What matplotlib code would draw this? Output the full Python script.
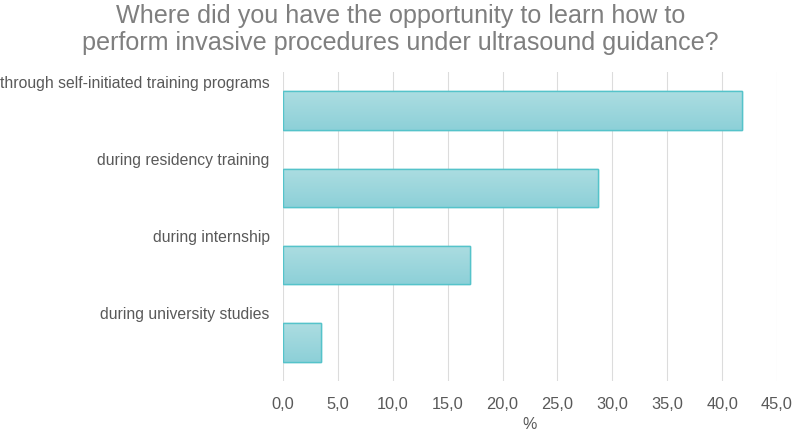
import numpy as np
import matplotlib
matplotlib.use("Agg")
import matplotlib.pyplot as plt
from matplotlib.ticker import FuncFormatter
import matplotlib.transforms as mtransforms

plt.rcParams['font.family'] = ['Liberation Sans', 'DejaVu Sans']

categories = ['through self-initiated training programs',
              'during residency training',
              'during internship',
              'during university studies']
values = [41.8, 28.7, 17.0, 3.5]
xticks = np.arange(0, 50, 5)

fig = plt.figure(figsize=(7.94, 4.31), dpi=100)
ax = fig.add_axes([0.3564, 0.1137, 0.6222, 0.7169])

pos = np.arange(len(categories))
bars = ax.barh(pos, values, height=0.5, color='#9fd6dc', edgecolor='#55c3ca',
               linewidth=1.0, zorder=3)

# vertical gradient inside each bar
grad = np.linspace(0, 1, 64).reshape(-1, 1)
cmap = matplotlib.colors.LinearSegmentedColormap.from_list('g', ['#acdde1', '#8dd0d8'])
for b in bars:
    x0, y0 = b.get_x(), b.get_y()
    w, h = b.get_width(), b.get_height()
    im = ax.imshow(grad, extent=[x0, x0 + w, y0 + h, y0], aspect='auto',
                   cmap=cmap, zorder=3.5, origin='upper')
    im.set_clip_path(b)
    ax.add_patch(plt.Rectangle((x0, y0), w, h, fill=False, edgecolor='#55c3ca',
                               linewidth=1.0, zorder=4))

ax.set_xlim(0, 45)
ax.set_ylim(len(categories) - 0.5, -0.5)
ax.set_xticks(xticks)
ax.xaxis.set_major_formatter(FuncFormatter(lambda v, p: f'{v:.1f}'.replace('.', ',')))
ax.set_yticks([])
ax.tick_params(axis='x', length=0, pad=11, labelsize=11.8, labelcolor='#595959')
ax.grid(axis='x', color='#dcdcdc', linewidth=0.8, zorder=0)
for s in ax.spines.values():
    s.set_visible(False)

ax.set_xlabel('%', fontsize=11.5, color='#595959', labelpad=3.5)

trans = mtransforms.blended_transform_factory(ax.transAxes, ax.transData)
for i, c in enumerate(categories):
    ax.annotate(c, xy=(0, i - 0.5 + 0.13), xycoords=trans, xytext=(-9.5, 0),
                textcoords='offset points', ha='right', va='center',
                fontsize=11.3, color='#595959')

fig.text(0.504, 0.99, 'Where did you have the opportunity to learn how to\n'
         'perform invasive procedures under ultrasound guidance?',
         ha='center', va='top', fontsize=18.1, color='#7f7f7f', linespacing=1.15)

fig.savefig('out.png', dpi=100)
